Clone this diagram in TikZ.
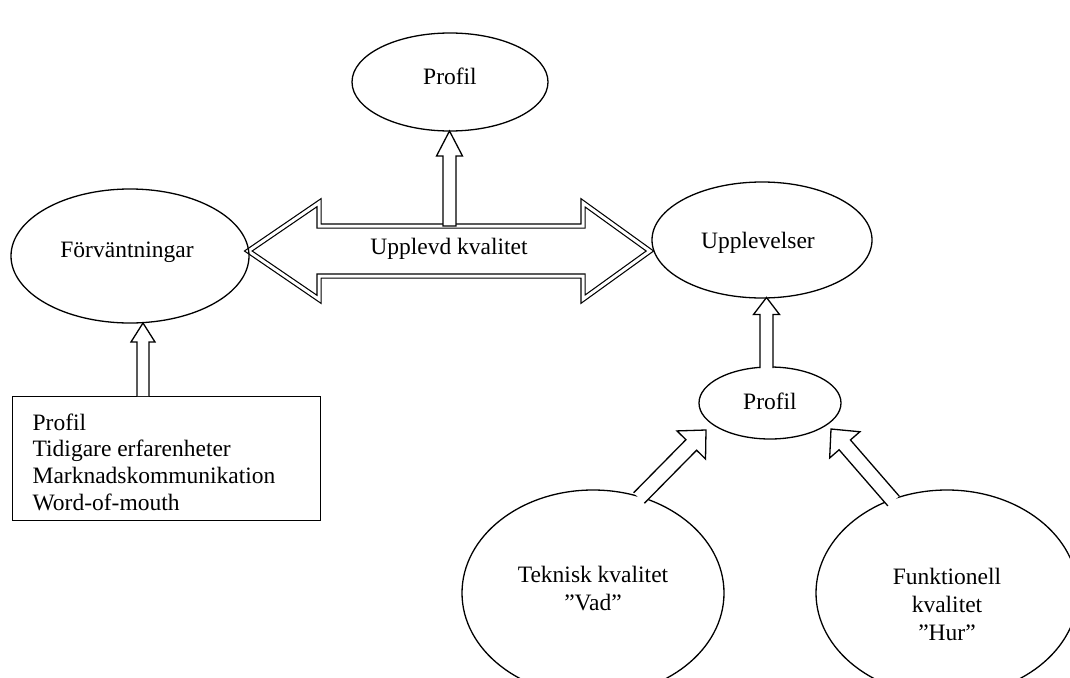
\documentclass[tikz,border=0pt]{standalone}
\usepackage{fontspec}
\setmainfont{Liberation Serif}
\usetikzlibrary{shapes.geometric,calc}
% #1 tail, #2 tip, #3 shaft half width, #4 head half width, #5 head length, #6 closing
\newcommand\blockarr[6]{%
  \coordinate (hb) at ($(#2)!#5!(#1)$);
  \coordinate (tl) at ($(#1)!#3!90:(#2)$);
  \coordinate (tr) at ($(#1)!#3!-90:(#2)$);
  \coordinate (sl) at ($(hb)!#3!90:(#2)$);
  \coordinate (sr) at ($(hb)!#3!-90:(#2)$);
  \coordinate (hl) at ($(hb)!#4!90:(#2)$);
  \coordinate (hr) at ($(hb)!#4!-90:(#2)$);
  \fill[white] (tl) -- (sl) -- (hl) -- (#2) -- (hr) -- (sr) -- (tr) -- cycle;
  \draw[barrow] (tl) -- (sl) -- (hl) -- (#2) -- (hr) -- (sr) -- (tr) #6;
}
\begin{document}
\begin{tikzpicture}[x=1pt,y=-1pt,line width=1.3pt,
  ell/.style={draw, ellipse, inner sep=0pt},
  txt/.style={font=\fontsize{23.5}{28}\selectfont, align=center, inner sep=0pt},
  boxtxt/.style={font=\fontsize{23.5}{26.7}\selectfont, align=left, inner sep=0pt},
  barrow/.style={draw, line join=miter},
  bigarrow/.style={draw, double=white, double distance=3pt, line width=1.2pt, line join=miter}]
\useasboundingbox (0,0) rectangle (1070,677);

% big double arrow
\draw[bigarrow] (248.3,251) -- (319,202.7) -- (319,226) -- (583,226) -- (583,202.8)
  -- (649.9,251) -- (583,299.2) -- (583,276) -- (319,276) -- (319,299.3) -- cycle;
\node[txt] (uk) at (449,249) {Upplevd kvalitet};

% ellipses
\node[ell, minimum width=196pt, minimum height=98pt] (ptop) at (450,82) {};
\node[txt] (ptoptxt) at (450,76) {Profil};
\node[ell, minimum width=238pt, minimum height=134pt] (forv) at (130,256) {};
\node[txt] (forvtxt) at (127,252) {Förväntningar};
\node[ell, minimum width=220pt, minimum height=116pt] (uppl) at (762,240) {};
\node[txt] (uppltxt) at (758,243) {Upplevelser};
\node[ell, minimum width=142pt, minimum height=72pt] (psm) at (770,403) {};
\node[txt] (psmtxt) at (770,401) {Profil};
\node[ell, minimum width=262pt, minimum height=206pt] (tek) at (593,593) {};
\node[txt] (tektxt) at (593,589) {Teknisk kvalitet\\”Vad”};
\node[ell, minimum width=262pt, minimum height=206pt] (fun) at (947,593) {};
\node[txt] (funtxt) at (947,604) {Funktionell\\kvalitet\\”Hur”};

% box
\node[draw, minimum width=308pt, minimum height=124pt, anchor=north west, inner sep=0pt] (box) at (12,396) {};
\node[boxtxt, anchor=west] (boxt) at (32,462) {Profil\\Tidigare erfarenheter\\Marknadskommunikation\\Word-of-mouth};

% block arrows
\coordinate (a1t) at (449.5,226);
\coordinate (a1h) at (449.5,131);
\blockarr{a1t}{a1h}{6.5pt}{13pt}{25pt}{-- cycle}
\coordinate (a2t) at (143,396);
\coordinate (a2h) at (143,323);
\blockarr{a2t}{a2h}{6pt}{12pt}{19pt}{}
\coordinate (a3t) at (766.5,368);
\coordinate (a3h) at (766.5,297.5);
\blockarr{a3t}{a3h}{6.5pt}{13pt}{17pt}{}
\coordinate (a4t) at (639,498);
\coordinate (a4h) at (706,430);
\blockarr{a4t}{a4h}{7.5pt}{20pt}{21pt}{}
\coordinate (a5t) at (893.5,501);
\coordinate (a5h) at (831,429);
\blockarr{a5t}{a5h}{7.5pt}{20pt}{21pt}{}
\end{tikzpicture}
\end{document}
